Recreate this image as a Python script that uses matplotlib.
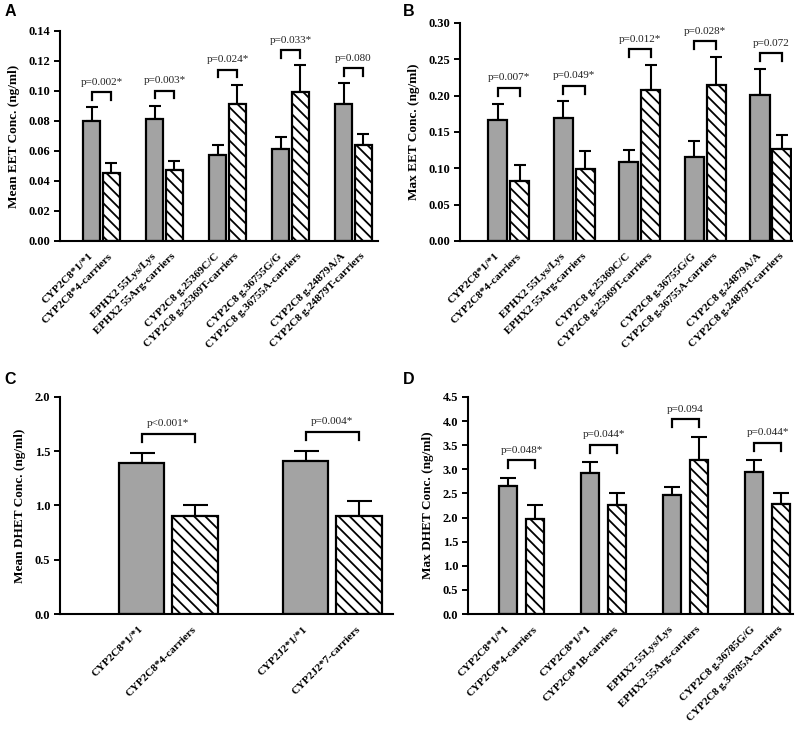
import numpy as np
import matplotlib
matplotlib.use("Agg")
import matplotlib.pyplot as plt

plt.rcParams['hatch.linewidth'] = 1.3
SERIF = ['Liberation Serif', 'DejaVu Serif']
SANS = ['Liberation Sans', 'DejaVu Sans']

# ---------------- data ----------------
# Panel A: Mean EET Conc. (ng/ml)
a_labels = ["CYP2C8*1/*1", "CYP2C8*4-carriers",
            "EPHX2 55Lys/Lys", "EPHX2 55Arg-carriers",
            "CYP2C8 g.25369C/C", "CYP2C8 g.25369T-carriers",
            "CYP2C8 g.36755G/G", "CYP2C8 g.36755A-carriers",
            "CYP2C8 g.24879A/A", "CYP2C8 g.24879T-carriers"]
a_ref = [0.080, 0.081, 0.057, 0.061, 0.091]
a_ref_err = [0.009, 0.009, 0.007, 0.008, 0.014]
a_var = [0.045, 0.047, 0.091, 0.099, 0.064]
a_var_err = [0.007, 0.006, 0.013, 0.018, 0.007]
a_p = ["p=0.002*", "p=0.003*", "p=0.024*", "p=0.033*", "p=0.080"]

# Panel B: Max EET Conc. (ng/ml)
b_labels = a_labels
b_ref = [0.167, 0.169, 0.108, 0.116, 0.201]
b_ref_err = [0.022, 0.023, 0.017, 0.021, 0.036]
b_var = [0.083, 0.099, 0.208, 0.214, 0.127]
b_var_err = [0.021, 0.025, 0.034, 0.039, 0.019]
b_p = ["p=0.007*", "p=0.049*", "p=0.012*", "p=0.028*", "p=0.072"]

# Panel C: Mean DHET Conc. (ng/ml)
c_labels = ["CYP2C8*1/*1", "CYP2C8*4-carriers",
            "CYP2J2*1/*1", "CYP2J2*7-carriers"]
c_ref = [1.39, 1.41]
c_ref_err = [0.09, 0.09]
c_var = [0.90, 0.90]
c_var_err = [0.10, 0.14]
c_p = ["p<0.001*", "p=0.004*"]

# Panel D: Max DHET Conc. (ng/ml)
d_labels = ["CYP2C8*1/*1", "CYP2C8*4-carriers",
            "CYP2C8*1/*1", "CYP2C8*1B-carriers",
            "EPHX2 55Lys/Lys", "EPHX2 55Arg-carriers",
            "CYP2C8 g.36785G/G", "CYP2C8 g.36785A-carriers"]
d_ref = [2.66, 2.93, 2.46, 2.95]
d_ref_err = [0.17, 0.22, 0.17, 0.24]
d_var = [1.98, 2.26, 3.19, 2.29]
d_var_err = [0.28, 0.24, 0.49, 0.22]
d_p = ["p=0.048*", "p=0.044*", "p=0.094", "p=0.044*"]

GRAY = '#a3a3a3'

fig = plt.figure(figsize=(7.97, 7.32), dpi=100)

def panel(rect, labels, ref, ref_err, var, var_err, pvals, ylabel,
          ymax, ystep, fmt, xlim, d, w, capsize, br_off, letter, letter_pos):
    ax = fig.add_axes(rect)
    n = len(ref)
    x = np.arange(n)
    xr = x - d / 2
    xv = x + d / 2
    ax.bar(xr, ref, width=w, color=GRAY, edgecolor='black', linewidth=1.6, zorder=2)
    ax.bar(xv, var, width=w, color='white', edgecolor='black', linewidth=1.6,
           hatch='\\\\\\', zorder=2)
    ax.errorbar(xr, ref, yerr=[np.zeros(n), ref_err], fmt='none', ecolor='black',
                elinewidth=1.5, capsize=capsize, capthick=1.5, zorder=1)
    ax.errorbar(xv, var, yerr=[np.zeros(n), var_err], fmt='none', ecolor='black',
                elinewidth=1.5, capsize=capsize, capthick=1.5, zorder=1)
    leg = 0.036 * ymax
    for i in range(n):
        top = max(ref[i] + ref_err[i], var[i] + var_err[i]) + br_off * ymax
        ax.plot([xr[i], xr[i], xv[i], xv[i]], [top - leg, top, top, top - leg],
                color='black', lw=1.6, solid_joinstyle='miter', zorder=3,
                clip_on=False)
        ax.annotate(pvals[i], xy=(x[i], top), xytext=(0, 4), textcoords='offset points',
                    ha='center', va='bottom', fontsize=8, family=SERIF, color='#222222')
    ax.set_xlim(*xlim)
    ax.set_ylim(0, ymax)
    ticks = np.arange(0, ymax + ystep / 2, ystep)
    ax.set_yticks(ticks)
    ax.set_yticklabels([fmt.format(t) for t in ticks], family=SERIF,
                       fontweight='bold', fontsize=9)
    pos = np.empty(2 * n)
    pos[0::2] = xr
    pos[1::2] = xv
    ax.set_xticks(pos)
    ax.set_xticklabels(labels, rotation=45, ha='right', va='center',
                       rotation_mode='anchor', family=SERIF, fontweight='bold',
                       fontsize=8)
    ax.tick_params(axis='x', length=0, pad=10)
    ax.tick_params(axis='y', length=4, width=1.4, direction='out', pad=3)
    ax.set_ylabel(ylabel, family=SERIF, fontweight='bold', fontsize=9.5, labelpad=6)
    for s in ['top', 'right']:
        ax.spines[s].set_visible(False)
    for s in ['left', 'bottom']:
        ax.spines[s].set_linewidth(1.5)
    fig.text(letter_pos[0], letter_pos[1], letter, family=SANS, fontweight='bold',
             fontsize=11.5, ha='left', va='top')
    return ax

panel([0.0753, 0.6708, 0.3990, 0.2869], a_labels, a_ref, a_ref_err, a_var, a_var_err,
      a_p, "Mean EET Conc. (ng/ml)", 0.14, 0.02, "{:.2f}", (-0.66, 4.39),
      0.31, 0.27, 4.5, 0.072, "A", (0.006, 0.995))
panel([0.5772, 0.6708, 0.4165, 0.2978], b_labels, b_ref, b_ref_err, b_var, b_var_err,
      b_p, "Max EET Conc. (ng/ml)", 0.30, 0.05, "{:.2f}", (-0.74, 4.32),
      0.335, 0.29, 4.2, 0.072, "B", (0.506, 0.995))
panel([0.0753, 0.1612, 0.4178, 0.2965], c_labels, c_ref, c_ref_err, c_var, c_var_err,
      c_p, "Mean DHET Conc. (ng/ml)", 2.0, 0.5, "{:.1f}", (-0.66, 1.37),
      0.326, 0.275, 9, 0.09, "C", (0.006, 0.492))
panel([0.5872, 0.1612, 0.4078, 0.2965], d_labels, d_ref, d_ref_err, d_var, d_var_err,
      d_p, "Max DHET Conc. (ng/ml)", 4.5, 0.5, "{:.1f}", (-0.655, 3.31),
      0.335, 0.22, 5.5, 0.08, "D", (0.506, 0.492))

fig.savefig("out.png", dpi=100)
